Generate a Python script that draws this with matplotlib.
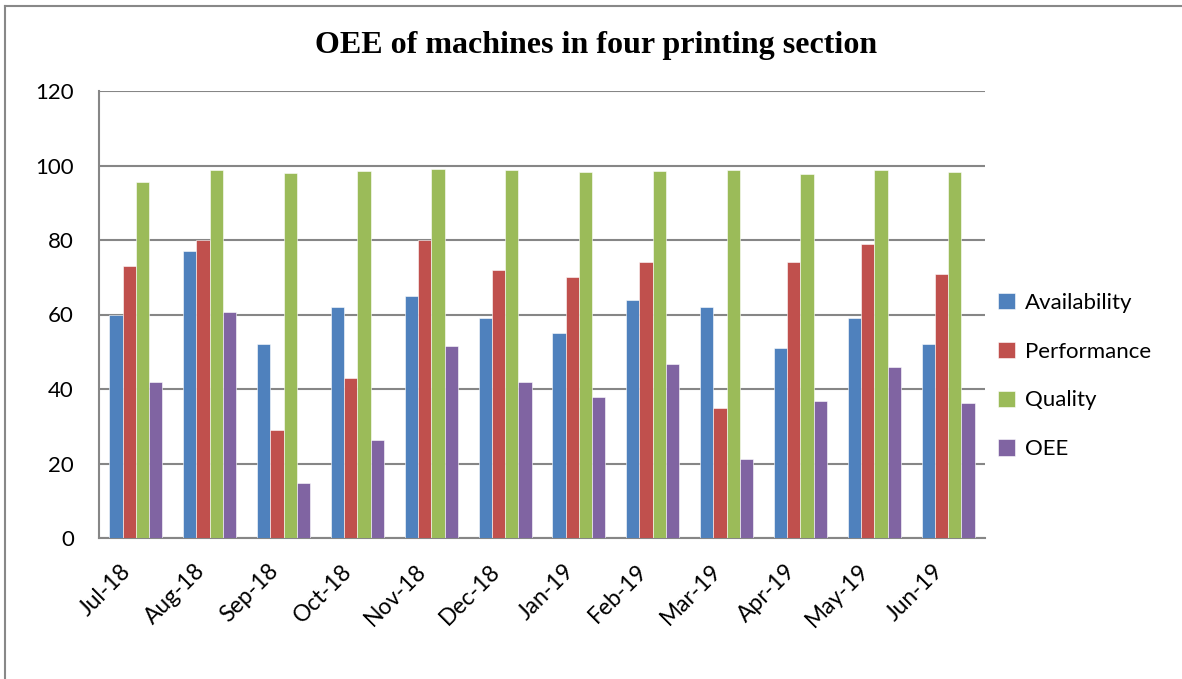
import matplotlib.pyplot as plt
import numpy as np
from matplotlib.lines import Line2D
from matplotlib.transforms import ScaledTranslation

months = ['Jul-18', 'Aug-18', 'Sep-18', 'Oct-18', 'Nov-18', 'Dec-18',
          'Jan-19', 'Feb-19', 'Mar-19', 'Apr-19', 'May-19', 'Jun-19']
availability = [60, 77, 52, 62, 65, 59, 55, 64, 62, 51, 59, 52]
performance = [73, 80, 29, 43, 80, 72, 70, 74, 35, 74, 79, 71]
quality = [95.6, 98.7, 98.1, 98.6, 99.0, 98.7, 98.3, 98.6, 98.7, 97.7, 98.7, 98.2]
oee = [41.8, 60.8, 14.8, 26.2, 51.5, 41.8, 37.8, 46.6, 21.3, 36.9, 46.0, 36.2]

series = ['Availability', 'Performance', 'Quality', 'OEE']
colors = ['#4F81BD', '#C0504D', '#9BBB59', '#8064A2']

fig = plt.figure(figsize=(11.82, 6.79), dpi=100)
ax = fig.add_axes([99 / 1182, 1 - 538 / 679, 886 / 1182, 447 / 679])

x = np.arange(len(months))
w = 0.18
for i, (vals, c, name) in enumerate(zip([availability, performance, quality, oee], colors, series)):
    ax.bar(x + (i - 1.5) * w, vals, width=w, color=c, label=name,
           edgecolor='white', linewidth=0.4, zorder=3)

ax.set_xlim(-0.5, len(months) - 0.5)
ax.set_ylim(0, 120)
ax.set_yticks(range(0, 121, 20))
ax.yaxis.grid(True, color='#868686', linewidth=1.5, zorder=0)
ax.tick_params(axis='both', length=0, labelsize=16)
ax.tick_params(axis='y', pad=18)
for lbl in ax.get_yticklabels():
    lbl.set_fontfamily('Lato')

ax.set_xticks(x)
ax.set_xticklabels(months, rotation=45, ha='right', rotation_mode='anchor',
                   fontfamily='Lato', fontsize=16.5)
ax.tick_params(axis='x', pad=16)
shift = ScaledTranslation(-16 / 100, 0, fig.dpi_scale_trans)
for lbl in ax.get_xticklabels():
    lbl.set_transform(lbl.get_transform() + shift)

for side in ['top', 'right']:
    ax.spines[side].set_visible(False)
for side in ['left', 'bottom']:
    ax.spines[side].set_color('#868686')
    ax.spines[side].set_linewidth(1.5)

fig.text(596 / 1182, 1 - 45 / 679, 'OEE of machines in four printing section',
         ha='center', va='center', fontsize=23, fontweight='bold',
         fontfamily='Liberation Serif')

leg = ax.legend(loc='center left', bbox_to_anchor=(978 / 1182, 1 - 376 / 679),
                bbox_transform=fig.transFigure, frameon=False,
                handlelength=0.75, handleheight=0.75, handletextpad=0.45,
                labelspacing=1.3, prop={'family': 'Lato', 'size': 16})

# outer chart frame
fig.add_artist(Line2D([5 / 1182, 5 / 1182], [0, 1 - 6 / 679], color='#888888', linewidth=1.5))
fig.add_artist(Line2D([5 / 1182, 1], [1 - 6 / 679, 1 - 6 / 679], color='#888888', linewidth=1.5))

fig.savefig('out.png', dpi=100)
